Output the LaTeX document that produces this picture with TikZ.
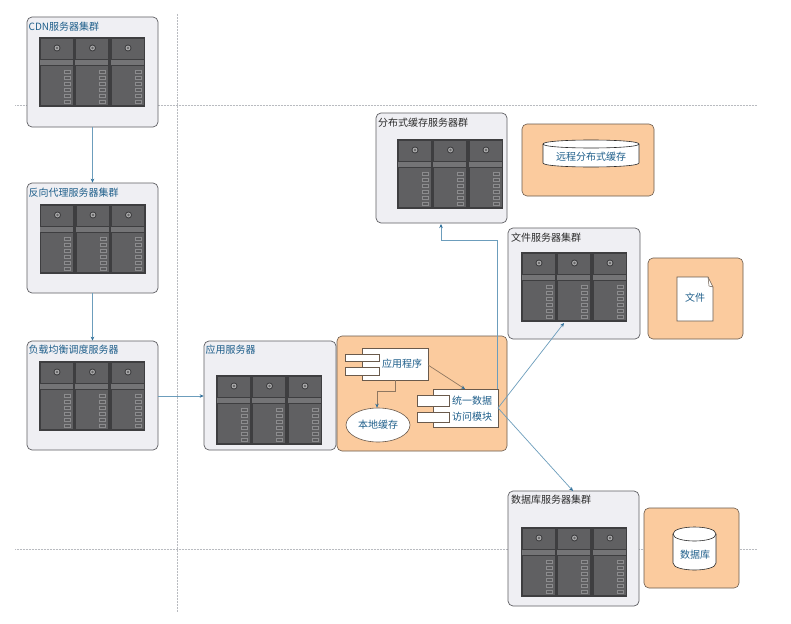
\documentclass[tikz,border=0pt]{standalone}
\usepackage{fontspec}
\setmainfont{Noto Sans CJK SC}
\usetikzlibrary{shapes.geometric,arrows.meta,calc}
\definecolor{boxfill}{HTML}{EFEFF3}
\definecolor{boxline}{HTML}{5F5F63}
\definecolor{peach}{HTML}{FBCB9E}
\definecolor{peachline}{HTML}{6A5A4C}
\definecolor{conn}{HTML}{6C9DBC}
\definecolor{innerconn}{HTML}{8F7760}
\definecolor{tip}{HTML}{2F6F9A}
\definecolor{labelblue}{HTML}{1F5F8B}
\definecolor{labeldark}{HTML}{2B2B2B}
\definecolor{rackouter}{HTML}{3E3E40}
\definecolor{rackpanel}{HTML}{606062}
\definecolor{rackstrip}{HTML}{747476}
\definecolor{slotline}{HTML}{8C8C8E}
\definecolor{guide}{HTML}{B9BBC0}
\tikzset{
  x=1pt,y=-1pt,
  guideline/.style={draw=guide,line width=0.5pt,densely dotted},
  groupbox/.style={draw=boxline,fill=boxfill,rounded corners=5pt,line width=0.7pt,inner sep=0pt},
  orangebox/.style={draw=peachline,fill=peach,rounded corners=5pt,line width=0.6pt,inner sep=0pt},
  whitebox/.style={draw=peachline,fill=white,line width=0.6pt,inner sep=0pt},
  grouplabelblue/.style={anchor=west,inner sep=0pt,text=labelblue,font=\fontsize{10}{12}\selectfont},
  grouplabeldark/.style={anchor=west,inner sep=0pt,text=labeldark,font=\fontsize{10}{12}\selectfont},
  inner label/.style={inner sep=0pt,text=labelblue,font=\fontsize{10}{12}\selectfont},
  link/.style={draw=conn,line width=0.7pt,-{Stealth[length=4pt,width=3.5pt,color=tip]}},
  innerlink/.style={draw=innerconn,line width=0.7pt,-{Stealth[length=4pt,width=3.5pt,color=tip]}},
  panel/.style={fill=rackpanel,draw=rackouter,line width=0.4pt},
}
% #1 name, #2 x1, #3 y1, #4 x2, #5 y2, #6 style
\newcommand{\areabox}[6]{%
  \pgfmathsetmacro{\cxv}{(#2+#4)/2}\pgfmathsetmacro{\cyv}{(#3+#5)/2}%
  \pgfmathsetmacro{\wv}{#4-#2}\pgfmathsetmacro{\hv}{#5-#3}%
  \node[#6,minimum width=\wv pt,minimum height=\hv pt] (#1) at (\cxv,\cyv) {};}
% one rack unit, local origin at the left top of the unit
\newcommand{\rackunit}[1]{%
  \begin{scope}[shift={(#1,0)}]
    \fill[rackstrip] (0.7,22) rectangle (33.7,28);
    \draw[panel] (0.7,1.5) rectangle (33.7,22);
    \draw[panel] (0.7,28) rectangle (33.7,68.5);
    \fill[rackouter] (18,11) circle (3.5pt);
    \fill[rackstrip!60!white] (18,11) circle (2.4pt);
    \fill[rackouter!80!white] (18,11) circle (1.3pt);
    \foreach \yy in {33,39,45,51,57,63}{
      \draw[draw=slotline,fill=rackouter!85!white,line width=0.5pt] (25,\yy) rectangle (31,\yy+3.4);
    }
  \end{scope}}
\newcommand{\rackat}[2]{%
  \begin{scope}[shift={(#1,#2)}]
    \fill[rackouter] (0,0) rectangle (106,70);
    \rackunit{0}\rackunit{35.5}\rackunit{71}
  \end{scope}}
% #1 x1, #2 x2, #3 ytop, #4 ybottom, #5 ry
\newcommand{\drumshape}[5]{%
  \pgfmathsetmacro{\kv}{1.333*#5}%
  \filldraw[draw=labeldark,fill=white,line width=0.6pt]
    (#1,#3+#5) .. controls (#1,#3+#5-\kv) and (#2,#3+#5-\kv) .. (#2,#3+#5)
    -- (#2,#4-#5) .. controls (#2,#4-#5+\kv) and (#1,#4-#5+\kv) .. (#1,#4-#5) -- cycle;
  \draw[draw=labeldark,line width=0.6pt]
    (#1,#3+#5) .. controls (#1,#3+#5+\kv) and (#2,#3+#5+\kv) .. (#2,#3+#5);}
\begin{document}
\begin{tikzpicture}
\useasboundingbox[fill=white] (0,0) rectangle (791,623);
% guides
\coordinate (gh1a) at (15,105); \coordinate (gh1b) at (757,105);
\coordinate (gh2a) at (15,549); \coordinate (gh2b) at (757,549);
\coordinate (gva) at (177,14); \coordinate (gvb) at (177,612);
\draw[guideline] (gh1a) -- (gh1b);
\draw[guideline] (gh2a) -- (gh2b);
\draw[guideline] (gva) -- (gvb);
% groups
\areabox{cdn}{27}{17}{158}{127}{groupbox}
\areabox{proxy}{27}{183}{158}{293}{groupbox}
\areabox{lb}{27}{341}{158}{450}{groupbox}
\areabox{app}{204}{341}{336}{450}{groupbox}
\areabox{cache}{376}{113}{507}{223}{groupbox}
\areabox{file}{508}{228}{640}{339}{groupbox}
\areabox{db}{508}{491}{639}{606}{groupbox}
\areabox{remoteorange}{522}{124}{654}{196}{orangebox}
\areabox{fileorange}{648}{258}{743}{339}{orangebox}
\areabox{dborange}{644}{508}{739}{588}{orangebox}
\areabox{apporange}{337}{336}{507}{451}{orangebox}
% racks
\rackat{39}{37}\rackat{39.5}{204}\rackat{39}{361}\rackat{216}{375}
\rackat{397}{139}\rackat{521}{252}\rackat{521}{527}
% group labels
\node[grouplabelblue] (lcdn) at (28.5,27) {CDN服务器集群};
\node[grouplabelblue] (lproxy) at (28.5,193) {反向代理服务器集群};
\node[grouplabelblue] (llb) at (28.5,350) {负载均衡调度服务器};
\node[grouplabelblue] (lapp) at (205.5,350) {应用服务器};
\node[grouplabeldark] (lcache) at (378,123) {分布式缓存服务器群};
\node[grouplabeldark] (lfile) at (511,238) {文件服务器集群};
\node[grouplabeldark] (ldb) at (511,500) {数据库服务器集群};
% remote cache drum
\drumshape{543}{639}{140}{167}{4}
\node[inner label] (remotetext) at (591,157) {远程分布式缓存};
% file document
\filldraw[draw=peachline,fill=white,line width=0.6pt] (677,277) -- (708,277) -- (713,287) -- (713,321) -- (677,321) -- cycle;
\draw[draw=peachline,line width=0.5pt] (708,277) -- (709,286) -- (713,287);
\node[inner label] (filetext) at (695,298) {文件};
% database drum
\drumshape{673}{716}{527}{570}{7}
\node[inner label] (dbtext) at (695,555) {数据库};
% application component
\areabox{prog}{362}{348}{428}{380}{whitebox}
\areabox{progtaba}{345}{354}{379}{361}{whitebox}
\areabox{progtabb}{345}{367}{379}{375}{whitebox}
\node[inner label] (progtext) at (402,364) {应用程序};
% data access component
\areabox{unified}{433}{389}{498}{427}{whitebox}
\areabox{unitaba}{417}{395}{449}{406}{whitebox}
\areabox{unitabb}{417}{412}{449}{422}{whitebox}
\node[inner label] (unitexta) at (472,401) {统一数据};
\node[inner label] (unitextb) at (472,417) {访问模块};
% local cache
\node[ellipse,draw=peachline,fill=white,line width=0.6pt,minimum width=64pt,minimum height=34pt,inner sep=0pt] (localcache) at (378,425) {};
\node[inner label] (localtext) at (378,425) {本地缓存};
% connectors
\draw[link] (cdn.south) -- (proxy.north);
\draw[link] (proxy.south) -- (lb.north);
\draw[link] (lb.east |- 0,396) coordinate (lbout) -- (app.west |- lbout);
\coordinate (progbottom) at (395,380);
\draw[innerlink] (progbottom) -- (395,391) -- (377,391) -- (localcache.north -| 377,0);
\coordinate (progright) at (428,365);
\coordinate (uniin) at (465,389);
\draw[innerlink] (progright) -- (uniin);
\coordinate (uniright) at (498,408);
\coordinate (unicorner) at (497,389);
\coordinate (cachein) at (441,224);
\draw[link] (unicorner) -- (497,240) -- (441,240) -- (cachein);
\coordinate (filein) at (564,323);
\draw[link] (uniright) -- (filein);
\coordinate (dbin) at (573,491);
\draw[link] (uniright) -- (dbin);
\end{tikzpicture}
\end{document}
